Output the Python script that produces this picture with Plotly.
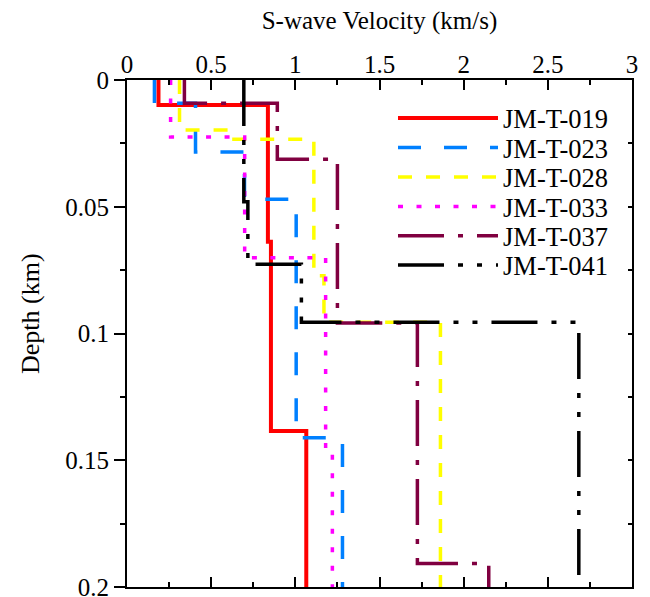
import plotly.graph_objects as go

# ---- data: layer-top depths (km) and S-wave velocities (km/s) ----
names = ["JM-T-019", "JM-T-023", "JM-T-028", "JM-T-033", "JM-T-037", "JM-T-041"]

tops_019 = [0.0, 0.0099, 0.0638, 0.1385]
vs_019 = [0.187, 0.837, 0.855, 1.065]

tops_023 = [0.0, 0.0092, 0.0284, 0.047, 0.1411]
vs_023 = [0.163, 0.407, 0.698, 1.005, 1.28]

tops_028 = [0.0, 0.0197, 0.0234, 0.0772, 0.0956]
vs_028 = [0.312, 0.62, 1.11, 1.17, 1.862]

tops_033 = [0.0, 0.0225, 0.0701, 0.1464]
vs_033 = [0.259, 0.699, 1.18, 1.22]

tops_037 = [0.0, 0.0092, 0.0313, 0.0959, 0.1907]
vs_037 = [0.341, 0.893, 1.25, 1.725, 2.149]

tops_041 = [0.0, 0.048, 0.0727, 0.0956]
vs_041 = [0.694, 0.718, 1.036, 2.684]

max_depth = 0.2
x_ticks = [0, 0.5, 1, 1.5, 2, 2.5, 3]
y_ticks = [0, 0.05, 0.1, 0.15, 0.2]
y_ticktext = ["0", "0.05", "0.1", "0.15", "0.2"]

tops_all = [tops_019, tops_023, tops_028, tops_033, tops_037, tops_041]
vs_all = [vs_019, vs_023, vs_028, vs_033, vs_037, vs_041]

colors = ["#FF0000", "#0080FF", "#FFFF00", "#FF00FF", "#800040", "#000000"]
dashes = ["solid", "23px,23px", "14px,14px", "5px,13.5px",
          "46px,14px,5px,14px", "46px,14px,5px,14px,5px,14px"]
widths = [4, 3.5, 3.5, 3.5, 3.5, 3.5]

FONT = "Liberation Serif"

# figure geometry (px)
W, H = 650, 597
ML, MR, MT, MB = 127, 18, 80, 10
PW, PH = W - ML - MR, H - MT - MB

legend_ids = ["legend", "legend2", "legend3", "legend4", "legend5", "legend6"]
legend_row_px = [118.3, 147.7, 177.3, 206.7, 236.0, 265.3]
legend_left_px = 393

fig = go.Figure()
for name, tops, vs, c, d, w, lg in zip(names, tops_all, vs_all, colors, dashes, widths, legend_ids):
    xs = list(vs) + [vs[-1]]
    ys = list(tops) + [max_depth]
    fig.add_trace(go.Scatter(
        x=xs, y=ys, mode="lines", name=name, line_shape="vh",
        line=dict(color=c, width=w, dash=d), legend=lg,
    ))

# decorative secondary axes (bottom / right) carrying inward ticks
fig.add_trace(go.Scatter(x=[None], y=[None], xaxis="x2", yaxis="y2",
                         showlegend=False, hoverinfo="skip"))

axis_font = dict(family=FONT, size=25, color="black")
legend_font = dict(family=FONT, size=26.5, color="black")

legends = {}
for lg, ypx in zip(legend_ids, legend_row_px):
    legends[lg] = dict(
        x=(legend_left_px - ML) / PW, y=(H - MB - ypx) / PH,
        xanchor="left", yanchor="middle",
        bgcolor="rgba(0,0,0,0)", borderwidth=0,
        font=legend_font, itemwidth=100,
    )

fig.update_layout(
    width=W, height=H,
    margin=dict(l=ML, r=MR, t=MT, b=MB, autoexpand=False),
    paper_bgcolor="white", plot_bgcolor="white",
    font=axis_font,
    showlegend=True,
    **legends,
    xaxis=dict(
        side="top", range=[0, 3], tickvals=x_ticks, ticktext=[str(t) for t in x_ticks],
        ticks="inside", ticklen=10, tickwidth=2, tickcolor="black",
        minor=dict(ticks="inside", ticklen=5, dtick=0.25, tickwidth=2, tickcolor="black", showgrid=False),
        showline=True, linecolor="black", linewidth=2, showgrid=False, zeroline=False,
        title=dict(text="S-wave Velocity (km/s)", font=dict(family=FONT, size=25, color="black"), standoff=14),
        tickfont=axis_font, ticklabelstandoff=-5, ticklabeloverflow="allow", automargin=False,
    ),
    yaxis=dict(
        range=[max_depth, 0], tickvals=y_ticks, ticktext=y_ticktext,
        ticks="outside", ticklen=11, tickwidth=2, tickcolor="black",
        minor=dict(ticks="outside", ticklen=5, dtick=0.025, tickwidth=2, tickcolor="black", showgrid=False),
        showline=True, linecolor="black", linewidth=2, showgrid=False, zeroline=False,
        tickfont=axis_font, ticklabelstandoff=0, ticklabeloverflow="allow", automargin=False,
    ),
    xaxis2=dict(
        overlaying="x", side="bottom", anchor="y2", range=[0, 3], dtick=0.5,
        ticks="inside", ticklen=10, tickwidth=2, tickcolor="black",
        minor=dict(ticks="inside", ticklen=5, dtick=0.25, tickwidth=2, tickcolor="black", showgrid=False),
        showticklabels=False, showline=True, linecolor="black", linewidth=2,
        showgrid=False, zeroline=False, automargin=False,
    ),
    yaxis2=dict(
        overlaying="y", side="right", anchor="x2", range=[max_depth, 0], dtick=0.05,
        ticks="inside", ticklen=4, tickwidth=2, tickcolor="black",
        minor=dict(ticks="inside", ticklen=4, dtick=0.025, tickwidth=2, tickcolor="black", showgrid=False),
        showticklabels=False, showline=True, linecolor="black", linewidth=2,
        showgrid=False, zeroline=False, automargin=False,
    ),
    annotations=[dict(
        text="Depth (km)", textangle=-90, xref="paper", yref="paper",
        x=(30 - ML) / PW, y=(H - MB - 314) / PH, xanchor="center", yanchor="middle",
        showarrow=False, font=dict(family=FONT, size=26, color="black"),
    )],
)

fig.write_html("out.html")
